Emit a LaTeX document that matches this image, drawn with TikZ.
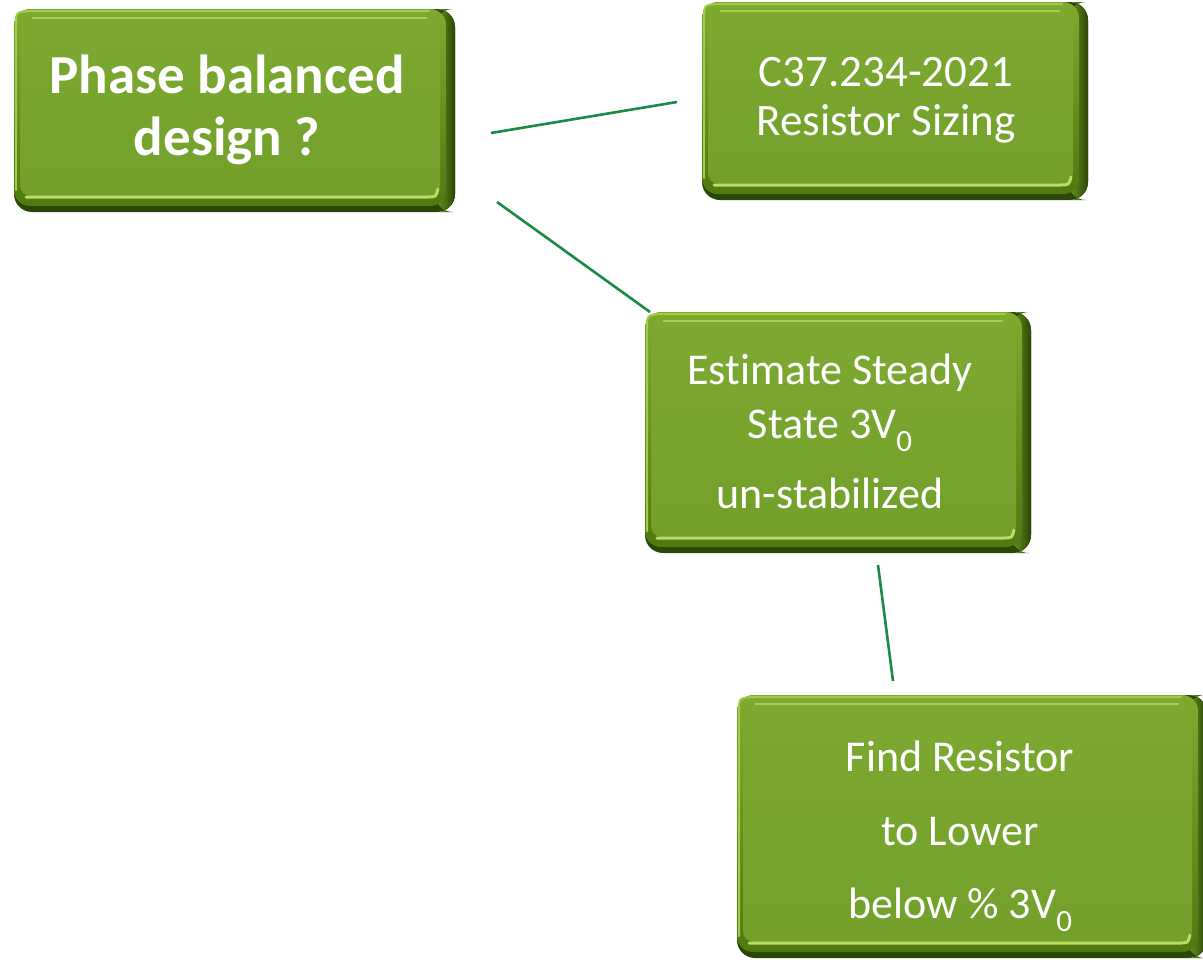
\documentclass[tikz,border=0pt]{standalone}
\usepackage{fontspec}
\setmainfont{Carlito}[Ligatures={NoCommon}]
\usetikzlibrary{calc}

\definecolor{rimdark}{HTML}{2B4705}
\definecolor{bodytop}{HTML}{7EAA2E}
\definecolor{bodybot}{HTML}{4F7A0E}
\definecolor{facetop}{HTML}{7DA931}
\definecolor{facebot}{HTML}{72A02A}
\definecolor{glint}{HTML}{BADC68}
\definecolor{edgelight}{HTML}{A2CA4C}
\definecolor{linkgreen}{HTML}{1A8A46}

\newcommand\subzero{\raisebox{-0.3em}{\fontsize{31}{31}\selectfont 0}}

% three-dimensional green tile behind a named node
\newcommand\beveltile[1]{%
  \fill[rimdark, rounded corners=18pt] (#1.north west) rectangle (#1.south east);
  \shade[left color=bodytop!80!rimdark, right color=rimdark, rounded corners=18pt]
    ($(#1.north east)+(-20,0)$) rectangle (#1.south east);
  \shade[top color=bodytop, bottom color=bodybot, rounded corners=16pt]
    (#1.north west) rectangle ($(#1.south east)+(-9,-6)$);
  \shade[top color=facetop, bottom color=facebot, rounded corners=11pt]
    ($(#1.north west)+(6,8)$) rectangle ($(#1.south east)+(-15,-16)$);
  \draw[edgelight, line width=2pt, line cap=round]
    ($(#1.south west)+(2,-22)$) -- ($(#1.north west)+(2,16)$)
    .. controls ($(#1.north west)+(2,3)$) .. ($(#1.north west)+(16,2)$)
    -- ($(#1.north east)+(-26,2)$);
  \draw[glint, line width=3pt, line cap=round]
    ($(#1.south west)+(12,-15)$) -- ($(#1.south east)+(-28,-15)$)
    .. controls ($(#1.south east)+(-19,-15)$) .. ($(#1.south east)+(-17,-23)$);
  \draw[glint!70!facetop, line width=1.2pt]
    ($(#1.north west)+(18,9)$) -- ($(#1.north east)+(-28,9)$);
}

\tikzset{
  tile/.style={rectangle, inner sep=0pt, outer sep=0pt,
    minimum width=#1},
  tileh/.style={minimum height=#1},
  bold label/.style={anchor=base, text=white, inner sep=0pt,
    font=\fontsize{55}{60}\selectfont\bfseries},
  plain label/.style={anchor=base, text=white, inner sep=0pt,
    font=\fontsize{45}{50}\selectfont},
  small label/.style={plain label, font=\fontsize{44}{50}\selectfont},
  link/.style={draw=linkgreen, line width=2.6pt}
}

\begin{document}
\begin{tikzpicture}[x=1pt, y=-1pt]
\useasboundingbox (0,0) rectangle (1203,962);

% tiles
\node[tile=441, tileh=203] (phase) at (234.5,110.5) {};
\node[tile=386, tileh=198] (sizing) at (895,101) {};
\node[tile=386, tileh=241] (steady) at (838,432.5) {};
\node[tile=470, tileh=263] (resist) at (972,826.5) {};

\beveltile{phase}
\beveltile{sizing}
\beveltile{steady}
\beveltile{resist}

% text
\node[bold label] (phase1) at (227,93) {Phase balanced};
\node[bold label] (phase2) at (227,155) {design ?};

\node[plain label] (sizing1) at (886,86) {C37.234-2021};
\node[plain label] (sizing2) at (886,135) {Resistor Sizing};

\node[small label] (steady1) at (830,384) {Estimate Steady};
\node[small label] (steady2) at (830,438) {State 3V\subzero};
\node[small label] (steady3) at (830,508) {un-stabilized};

\node[small label] (resist1) at (960,771) {Find Resistor};
\node[small label] (resist2) at (960,845) {to Lower};
\node[small label] (resist3) at (960,918) {below \% 3V\subzero};

% connectors
\coordinate (l1a) at (491,133);
\coordinate (l1b) at (677,102);
\coordinate (l2a) at (497,202);
\coordinate (l2b) at (650,312);
\coordinate (l3a) at (878,565);
\coordinate (l3b) at (893,681);
\draw[link] (l1a) -- (l1b);
\draw[link] (l2a) -- (l2b);
\draw[link] (l3a) -- (l3b);
\end{tikzpicture}
\end{document}
